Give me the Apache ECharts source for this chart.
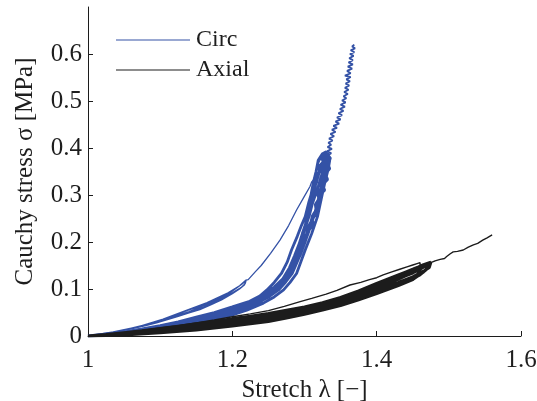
<!DOCTYPE html>
<html>
<head>
<meta charset="utf-8">
<script src="https://cdn.jsdelivr.net/npm/echarts@6/dist/echarts.min.js"></script>
<style>
  html, body { margin: 0; padding: 0; background: #fff; }
  #chart { width: 537px; height: 401px; }
</style>
</head>
<body>
<div id="chart"></div>
<script>
// Axis ticks and labels
const xTicks = [1, 1.2, 1.4, 1.6];
const yTicks = [0, 0.1, 0.2, 0.3, 0.4, 0.5, 0.6];
const seriesNames = ['Circ', 'Axial'];

// Circumferential test: two preconditioning loops, loading to peak
const circThin = [
  [1,0],[1.018,0.004],[1.035,0.008],[1.052,0.013],[1.07,0.02],[1.087,0.027],[1.104,0.035],[1.12,0.044],[1.139,0.055],[1.152,0.062],[1.165,0.07],[1.18,0.08],[1.194,0.091],[1.203,0.099],[1.21,0.107],[1.215,0.113],[1.218,0.117],
  [1.217,0.109],[1.21,0.1],[1.2,0.09],[1.185,0.077],[1.17,0.066],[1.155,0.056],[1.14,0.049],[1.125,0.042],[1.11,0.035],[1.095,0.028],[1.08,0.022],[1.06,0.015],[1.04,0.009],[1.02,0.004],[1,0],
  [1.02,0.005],[1.04,0.01],[1.06,0.017],[1.08,0.024],[1.1,0.032],[1.12,0.042],[1.14,0.052],[1.16,0.064],[1.18,0.078],[1.195,0.09],[1.206,0.102],[1.214,0.111],[1.219,0.118],
  [1.218,0.112],[1.212,0.103],[1.2,0.092],[1.188,0.082],[1.175,0.072],[1.16,0.061],[1.145,0.053],[1.13,0.046],[1.11,0.037],[1.09,0.028],[1.07,0.02],[1.05,0.012],[1.03,0.006],[1,0],
  [1.035,0.009],[1.07,0.02],[1.104,0.036],[1.139,0.056],[1.165,0.071],[1.194,0.092],[1.21,0.107],[1.219,0.119],[1.222,0.12],[1.224,0.124],[1.232,0.137],[1.24,0.15],[1.253,0.176],[1.266,0.204],[1.278,0.235],[1.289,0.268],[1.299,0.295],[1.3076,0.318],[1.31,0.328],[1.313,0.333],[1.316,0.35],[1.319,0.367],[1.324,0.381]
];

// Circumferential test: noisy rise to failure
const circRise = [
  [1.333,0.385],[1.337,0.389],[1.331,0.393],[1.338,0.398],[1.332,0.402],[1.337,0.407],[1.333,0.411],[1.339,0.416],[1.334,0.42],[1.341,0.425],[1.336,0.43],[1.343,0.434],[1.338,0.439],[1.345,0.443],[1.34,0.447],[1.348,0.452],[1.343,0.456],[1.35,0.461],[1.345,0.465],[1.352,0.47],[1.347,0.474],[1.354,0.479],[1.349,0.483],[1.356,0.488],[1.35,0.492],[1.357,0.497],[1.352,0.501],[1.358,0.506],[1.354,0.51],[1.36,0.515],[1.355,0.519],[1.361,0.524],[1.356,0.528],[1.362,0.533],[1.357,0.537],[1.363,0.542],[1.358,0.546],[1.364,0.551],[1.356,0.554],[1.364,0.559],[1.359,0.564],[1.366,0.569],[1.36,0.573],[1.367,0.578],[1.361,0.582],[1.367,0.587],[1.362,0.591],[1.368,0.596],[1.363,0.6],[1.369,0.604],[1.364,0.608],[1.37,0.612],[1.366,0.616],[1.369,0.62]
];

// Circumferential test: repeated cycles forming the dense band
const circBand = [
  [1.324,0.381],[1.331,0.383],[1.335,0.374],[1.333,0.356],[1.328,0.325],[1.323,0.29],[1.318,0.254],[1.31,0.218],[1.301,0.183],[1.295,0.158],[1.289,0.133],[1.28,0.114],[1.271,0.098],[1.258,0.083],[1.243,0.07],[1.22,0.055],[1.2,0.045],[1.175,0.035],[1.15,0.027],[1.125,0.02],[1.1,0.014],[1.075,0.009],[1.05,0.005],[1.025,0.002],[1,0],
  [1.025,0.004],[1.05,0.009],[1.075,0.015],[1.1,0.022],[1.125,0.03],[1.15,0.04],[1.175,0.05],[1.2,0.062],[1.224,0.074],[1.238,0.085],[1.248,0.098],[1.258,0.114],[1.268,0.133],[1.276,0.157],[1.282,0.183],[1.29,0.212],[1.296,0.236],[1.301,0.254],[1.306,0.285],[1.309,0.3],[1.312,0.325],[1.316,0.35],[1.319,0.374],[1.325,0.388],[1.33,0.392],
  [1.333,0.38],[1.331,0.36],[1.325,0.325],[1.319,0.29],[1.313,0.254],[1.305,0.22],[1.296,0.183],[1.29,0.158],[1.283,0.133],[1.274,0.115],[1.264,0.098],[1.25,0.083],[1.236,0.071],[1.215,0.058],[1.2,0.05],[1.175,0.039],[1.15,0.031],[1.125,0.023],[1.1,0.017],[1.075,0.011],[1.05,0.006],[1.025,0.002],[1,0],
  [1.025,0.003],[1.05,0.007],[1.075,0.012],[1.1,0.019],[1.125,0.026],[1.15,0.035],[1.175,0.045],[1.2,0.056],[1.22,0.066],[1.24,0.078],[1.257,0.098],[1.27,0.115],[1.279,0.133],[1.285,0.158],[1.29,0.183],[1.297,0.218],[1.305,0.254],[1.31,0.29],[1.316,0.325],[1.322,0.356],[1.327,0.378],[1.332,0.389],
  [1.334,0.37],[1.329,0.34],[1.322,0.3],[1.316,0.27],[1.31,0.24],[1.302,0.205],[1.294,0.172],[1.286,0.145],[1.277,0.123],[1.267,0.106],[1.254,0.09],[1.24,0.077],[1.22,0.062],[1.2,0.052],[1.175,0.042],[1.15,0.033],[1.125,0.025],[1.1,0.018],[1.075,0.012],[1.05,0.007],[1.025,0.003],[1,0],
  [1.025,0.003],[1.05,0.008],[1.075,0.014],[1.1,0.021],[1.125,0.029],[1.15,0.038],[1.175,0.048],[1.2,0.06],[1.223,0.072],[1.242,0.087],[1.258,0.104],[1.27,0.122],[1.279,0.145],[1.286,0.17],[1.291,0.19],[1.297,0.214],[1.3,0.232],[1.305,0.25],[1.303,0.262],[1.309,0.276],[1.307,0.29],[1.313,0.303],[1.311,0.316],[1.317,0.328],[1.315,0.34],[1.321,0.35],[1.319,0.36],[1.326,0.37],[1.324,0.378],[1.331,0.388],
  [1.336,0.378],[1.332,0.368],[1.335,0.356],[1.329,0.345],[1.332,0.333],[1.325,0.322],[1.328,0.31],[1.321,0.3],[1.323,0.288],[1.316,0.275],[1.318,0.262],[1.311,0.25],[1.312,0.238],[1.305,0.222],[1.301,0.205],[1.297,0.19],[1.292,0.17],[1.286,0.15],[1.279,0.13],[1.27,0.113],[1.26,0.098],[1.248,0.085],[1.232,0.072],[1.215,0.061],[1.2,0.053],[1.175,0.041],[1.15,0.032],[1.125,0.024],[1.1,0.017],[1.075,0.011],[1.05,0.006],[1.025,0.002],[1,0],
  [1.025,0.003],[1.05,0.008],[1.075,0.013],[1.1,0.02],[1.125,0.028],[1.15,0.037],[1.175,0.047],[1.2,0.059],[1.222,0.07],[1.244,0.086],[1.262,0.106],[1.274,0.125],[1.283,0.15],[1.289,0.176],[1.295,0.205],[1.301,0.236],[1.306,0.268],[1.311,0.305],[1.318,0.34],[1.325,0.368],[1.33,0.384],[1.333,0.385],
  [1.329,0.372],[1.327,0.36],[1.324,0.348],[1.326,0.338],[1.321,0.326],[1.323,0.315],[1.318,0.303],[1.32,0.292],[1.315,0.28],[1.316,0.268],[1.311,0.256],[1.309,0.243],[1.305,0.232],[1.303,0.218],[1.299,0.205],[1.295,0.188],[1.29,0.17],[1.284,0.15],[1.276,0.13],[1.266,0.112],[1.254,0.097],[1.24,0.083],[1.22,0.068],[1.2,0.056],[1.15,0.035],[1.1,0.019],[1.05,0.007],[1,0],
  [1.05,0.008],[1.1,0.02],[1.15,0.036],[1.2,0.057],[1.225,0.07],[1.25,0.092],[1.265,0.112],[1.277,0.135],[1.285,0.16],[1.291,0.185],[1.297,0.21],[1.302,0.235],[1.307,0.258],[1.311,0.282],[1.315,0.3],[1.319,0.318],[1.322,0.334],[1.325,0.348],[1.327,0.36],[1.33,0.372],[1.333,0.385]
];

// Axial test: first loading with relaxation drop, then final loading
const axialThin = [
  [1,0],[1.025,0.003],[1.05,0.007],[1.075,0.012],[1.1,0.017],[1.125,0.022],[1.15,0.028],[1.175,0.034],[1.2,0.041],[1.225,0.047],[1.25,0.054],[1.272,0.063],[1.294,0.073],[1.31,0.08],[1.33,0.089],[1.345,0.097],[1.363,0.1085],[1.378,0.114],[1.39,0.12],[1.4,0.124],[1.409,0.13],[1.42,0.136],[1.432,0.142],[1.442,0.147],[1.45,0.151],[1.456,0.154],[1.46,0.156],[1.461,0.141],
  null,
  [1.475,0.156],[1.481,0.16],[1.488,0.163],[1.494,0.165],[1.497,0.169],[1.502,0.175],[1.506,0.179],[1.512,0.18],[1.52,0.183],[1.527,0.189],[1.534,0.194],[1.54,0.197],[1.547,0.204],[1.553,0.209],[1.56,0.215]
];

// Axial test: repeated cycles forming the dense band
const axialBand = [
  [1.461,0.141],[1.455,0.128],[1.45,0.12],[1.44,0.114],[1.43,0.108],[1.415,0.099],[1.4,0.091],[1.375,0.078],[1.35,0.066],[1.325,0.055],[1.309,0.05],[1.307,0.056],[1.305,0.049],[1.3,0.047],[1.275,0.039],[1.25,0.032],[1.225,0.027],[1.2,0.022],[1.175,0.018],[1.15,0.014],[1.125,0.011],[1.1,0.008],[1.075,0.005],[1.05,0.003],[1.025,0.001],[1,0],
  [1.025,0.003],[1.05,0.007],[1.075,0.011],[1.1,0.016],[1.125,0.021],[1.15,0.026],[1.175,0.031],[1.2,0.037],[1.225,0.042],[1.25,0.048],[1.275,0.055],[1.3,0.062],[1.325,0.071],[1.35,0.082],[1.375,0.096],[1.4,0.112],[1.415,0.121],[1.43,0.13],[1.44,0.136],[1.45,0.142],[1.458,0.147],[1.465,0.152],[1.471,0.155],[1.475,0.157],
  [1.473,0.15],[1.468,0.14],[1.46,0.13],[1.45,0.122],[1.43,0.111],[1.4,0.094],[1.375,0.081],[1.35,0.069],[1.325,0.058],[1.3,0.05],[1.275,0.042],[1.25,0.035],[1.225,0.029],[1.2,0.024],[1.175,0.019],[1.15,0.015],[1.125,0.011],[1.1,0.008],[1.075,0.005],[1.05,0.003],[1.025,0.001],[1,0],
  [1.025,0.002],[1.05,0.005],[1.075,0.009],[1.1,0.013],[1.125,0.017],[1.15,0.021],[1.175,0.026],[1.2,0.031],[1.225,0.036],[1.25,0.041],[1.275,0.048],[1.3,0.055],[1.325,0.064],[1.35,0.075],[1.375,0.088],[1.4,0.103],[1.415,0.112],[1.43,0.121],[1.44,0.128],[1.45,0.134],[1.46,0.142],[1.468,0.149],[1.474,0.155],
  [1.472,0.148],[1.465,0.136],[1.45,0.12],[1.43,0.107],[1.4,0.09],[1.375,0.077],[1.35,0.065],[1.325,0.055],[1.3,0.046],[1.275,0.038],[1.25,0.031],[1.2,0.021],[1.15,0.013],[1.1,0.007],[1.05,0.002],[1,0],
  [1.05,0.006],[1.1,0.014],[1.15,0.023],[1.2,0.033],[1.25,0.044],[1.3,0.058],[1.35,0.077],[1.375,0.091],[1.4,0.106],[1.43,0.124],[1.45,0.137],[1.465,0.148],[1.475,0.156],
  [1.473,0.146],[1.465,0.138],[1.45,0.126],[1.43,0.114],[1.4,0.097],[1.375,0.084],[1.35,0.072],[1.3,0.052],[1.25,0.037],[1.2,0.026],[1.15,0.017],[1.1,0.01],[1.05,0.004],[1,0],
  [1.05,0.006],[1.1,0.015],[1.15,0.024],[1.2,0.034],[1.25,0.045],[1.3,0.059],[1.35,0.079],[1.4,0.108],[1.43,0.126],[1.45,0.139],[1.465,0.15],[1.475,0.156]
];

const BLUE = '#3452a6';
const BLACK = '#1c1c1c';
const TEXT = '#1e1e1e';
const FONT = '"Liberation Serif", "Times New Roman", serif';

const chart = echarts.init(document.getElementById('chart'), null, { renderer: 'canvas' });

chart.setOption({
  animation: false,
  backgroundColor: '#ffffff',
  grid: { left: 88, right: 16, top: 7, bottom: 65, containLabel: false, outerBoundsMode: 'none' },
  legend: {
    data: seriesNames,
    orient: 'vertical',
    left: 111,
    top: 23,
    itemWidth: 74,
    itemHeight: 14,
    itemGap: 6,
    icon: 'path://M0,7 L74,7 L74,8 L0,8 Z',
    textStyle: { fontFamily: FONT, fontSize: 24, color: TEXT, lineHeight: 24, padding: [0, 0, 0, 1] }
  },
  xAxis: {
    type: 'value',
    min: 1,
    max: 1.6,
    interval: 0.2,
    name: 'Stretch λ [−]',
    nameLocation: 'middle',
    nameGap: 33,
    nameTextStyle: { fontFamily: FONT, fontSize: 25, color: TEXT },
    axisLine: { show: true, onZero: false, lineStyle: { color: BLACK, width: 1 } },
    axisTick: { show: true, inside: true, length: 5, lineStyle: { color: BLACK } },
    axisLabel: {
      margin: 12, fontFamily: FONT, fontSize: 25, color: TEXT,
      customValues: xTicks
    },
    splitLine: { show: false }
  },
  yAxis: {
    type: 'value',
    min: 0,
    max: 0.7,
    interval: 0.1,
    name: 'Cauchy stress σ [MPa]',
    nameLocation: 'middle',
    nameGap: 50,
    nameTextStyle: { fontFamily: FONT, fontSize: 25, color: TEXT },
    axisLine: { show: true, onZero: false, lineStyle: { color: BLACK, width: 1 } },
    axisTick: { show: true, inside: true, length: 5, lineStyle: { color: BLACK }, customValues: yTicks },
    axisLabel: {
      margin: 6, fontFamily: FONT, fontSize: 25, color: TEXT,
      customValues: yTicks
    },
    splitLine: { show: false }
  },
  series: [
    { name: 'Circ', type: 'line', data: circThin, symbol: 'none',
      lineStyle: { color: BLUE, width: 1.3 }, itemStyle: { color: BLUE }, z: 2 },
    { name: 'Circ', type: 'line', data: circBand, symbol: 'none',
      lineStyle: { color: BLUE, width: 2.8 }, itemStyle: { color: BLUE }, z: 2 },
    { name: 'Circ', type: 'line', data: circRise, symbol: 'none',
      lineStyle: { color: BLUE, width: 1.8 }, itemStyle: { color: BLUE }, z: 2 },
    { name: 'Axial', type: 'line', data: axialThin, symbol: 'none', connectNulls: false,
      lineStyle: { color: BLACK, width: 1.4 }, itemStyle: { color: BLACK }, z: 3 },
    { name: 'Axial', type: 'line', data: axialBand, symbol: 'none',
      lineStyle: { color: BLACK, width: 3 }, itemStyle: { color: BLACK }, z: 3 }
  ]
});
</script>
</body>
</html>
